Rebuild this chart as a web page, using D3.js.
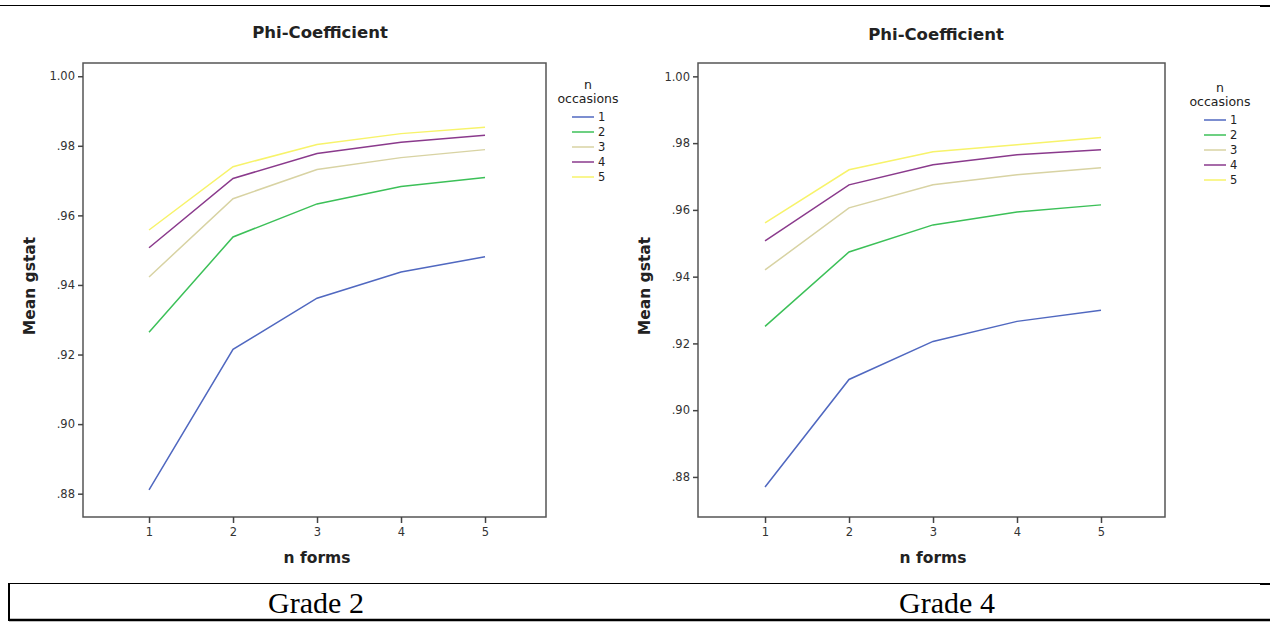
<!DOCTYPE html>
<html>
<head>
<meta charset="utf-8">
<script src="https://cdn.jsdelivr.net/npm/d3@7"></script>
<style>
  body { margin: 0; background: #fff; }
  svg { display: block; }
  .tick text { font-family: "DejaVu Sans", sans-serif; font-size: 11.5px; fill: #333; }
  .tick line { stroke: #444; }
</style>
</head>
<body>
<div id="viewer"></div>
<script>
const nForms = [1, 2, 3, 4, 5];
const occasions = ['1', '2', '3', '4', '5'];
const seriesColors = ['#5068c0', '#3cc058', '#d8d3a3', '#8a3a8c', '#f7f36a'];
const yTicks = [0.88, 0.90, 0.92, 0.94, 0.96, 0.98, 1.00];

// mean gstat by n occasions (rows) and n forms (columns)
const grade2 = [
  [0.8811, 0.9215, 0.9362, 0.9437, 0.9481],
  [0.9264, 0.9538, 0.9633, 0.9683, 0.9709],
  [0.9423, 0.9648, 0.9732, 0.9766, 0.9789],
  [0.9507, 0.9706, 0.9778, 0.9810, 0.9830],
  [0.9558, 0.9740, 0.9804, 0.9835, 0.9853]
];
const grade4 = [
  [0.8770, 0.9092, 0.9206, 0.9266, 0.9299],
  [0.9251, 0.9474, 0.9555, 0.9594, 0.9615],
  [0.9420, 0.9606, 0.9675, 0.9705, 0.9726],
  [0.9507, 0.9675, 0.9735, 0.9765, 0.9780],
  [0.9561, 0.9720, 0.9774, 0.9795, 0.9817]
];

const W = 1270, H = 622;
const svg = d3.select('#viewer').append('svg').attr('width', W).attr('height', H);

const panels = [
  { data: grade2, caption: 'Grade 2', left: 83, right: 546, top: 63, bottom: 517,
    xDomain: [0.214, 5.726], yDomain: [0.8733, 1.0038], clipW: 620, offset: 0,
    captionX: 316, titleY: 38, legendX: 572, legendY: 117 },
  { data: grade4, caption: 'Grade 4', left: 698, right: 1165, top: 63, bottom: 517,
    xDomain: [0.202, 5.762], yDomain: [0.868, 1.0040], clipW: 640, offset: 630,
    captionX: 947, titleY: 40, legendX: 1204, legendY: 120 }
];

svg.append('defs').selectAll('clipPath').data(panels).join('clipPath')
  .attr('id', (d, i) => 'clip' + i)
  .append('rect')
  .attr('x', d => d.offset).attr('y', 0)
  .attr('width', d => d.clipW).attr('height', 580);

panels.forEach((p, i) => {
  const g = svg.append('g').attr('clip-path', `url(#clip${i})`);

  const x = d3.scaleLinear().domain(p.xDomain).range([p.left, p.right]);
  const y = d3.scaleLinear().domain(p.yDomain).range([p.bottom, p.top]);

  // lines
  const line = d3.line().x((d, j) => x(nForms[j])).y(d => y(d));
  g.append('g').selectAll('path').data(p.data).join('path')
    .attr('d', line)
    .attr('fill', 'none')
    .attr('stroke', (d, j) => seriesColors[j])
    .attr('stroke-width', 1.5);

  // frame
  g.append('rect')
    .attr('x', p.left).attr('y', p.top)
    .attr('width', p.right - p.left).attr('height', p.bottom - p.top)
    .attr('fill', 'none').attr('stroke', '#555').attr('stroke-width', 1.5);

  const yAxis = d3.axisLeft(y).tickValues(yTicks).tickSize(5)
    .tickFormat(v => v === 1 ? '1.00' : d3.format('.2f')(v).replace(/^0/, ''));
  g.append('g').attr('transform', `translate(${p.left},0)`).call(yAxis)
    .call(a => a.select('.domain').remove())
    .selectAll('line').attr('stroke-width', 1.5);

  const xAxis = d3.axisBottom(x).tickValues(nForms).tickSize(6).tickFormat(d3.format('d'));
  g.append('g').attr('transform', `translate(0,${p.bottom})`).call(xAxis)
    .call(a => a.select('.domain').remove())
    .call(a => a.selectAll('text').attr('dy', '0.85em'))
    .selectAll('line').attr('stroke-width', 1.5);

  const sans = '"DejaVu Sans", sans-serif';
  const midX = x(3);

  g.append('text').attr('x', midX + 3).attr('y', p.titleY)
    .attr('text-anchor', 'middle').attr('font-family', sans)
    .attr('font-weight', 'bold').attr('font-size', 16.5).attr('fill', '#222')
    .text('Phi-Coefficient');

  g.append('text').attr('x', midX).attr('y', 563)
    .attr('text-anchor', 'middle').attr('font-family', sans)
    .attr('font-weight', 'bold').attr('font-size', 15.5).attr('fill', '#222')
    .text('n forms');

  g.append('text')
    .attr('transform', `translate(${p.left - 48},286) rotate(-90)`)
    .attr('text-anchor', 'middle').attr('font-family', sans)
    .attr('font-weight', 'bold').attr('font-size', 15.5).attr('fill', '#222')
    .text('Mean gstat');

  // legend
  const lg = g.append('g').attr('font-family', sans).attr('fill', '#222');
  lg.append('text').attr('x', p.legendX + 16).attr('y', p.legendY - 28)
    .attr('text-anchor', 'middle').attr('font-size', 12.5).text('n');
  lg.append('text').attr('x', p.legendX + 16).attr('y', p.legendY - 14)
    .attr('text-anchor', 'middle').attr('font-size', 12.5).text('occasions');
  const items = lg.selectAll('g.item').data(occasions).join('g')
    .attr('class', 'item')
    .attr('transform', (d, j) => `translate(${p.legendX},${p.legendY + j * 15})`);
  items.append('line').attr('x1', 0).attr('x2', 22)
    .attr('stroke', (d, j) => seriesColors[j]).attr('stroke-width', 1.5);
  items.append('text').attr('x', 26).attr('y', 4).attr('font-size', 11.5).text(d => d);

  svg.append('text').attr('x', p.captionX).attr('y', 613)
    .attr('text-anchor', 'middle')
    .attr('font-family', '"Liberation Serif", "Times New Roman", serif')
    .attr('font-size', 30).attr('fill', '#000')
    .text(p.caption);
});

// table rules
svg.append('line').attr('x1', 0).attr('x2', W).attr('y1', 5.5).attr('y2', 5.5)
  .attr('stroke', '#000').attr('stroke-width', 1.2);
svg.append('line').attr('x1', 9).attr('x2', W).attr('y1', 583.5).attr('y2', 583.5)
  .attr('stroke', '#000').attr('stroke-width', 1.2);
svg.append('line').attr('x1', 9).attr('x2', W).attr('y1', 620).attr('y2', 620)
  .attr('stroke', '#000').attr('stroke-width', 2.5);
svg.append('line').attr('x1', 9).attr('x2', 9).attr('y1', 583).attr('y2', 621)
  .attr('stroke', '#000').attr('stroke-width', 2);
svg.append('line').attr('x1', 1260).attr('x2', W).attr('y1', 6).attr('y2', 6)
  .attr('stroke', '#000').attr('stroke-width', 2);
svg.append('line').attr('x1', 1260).attr('x2', W).attr('y1', 584).attr('y2', 584)
  .attr('stroke', '#000').attr('stroke-width', 2);
</script>
</body>
</html>
